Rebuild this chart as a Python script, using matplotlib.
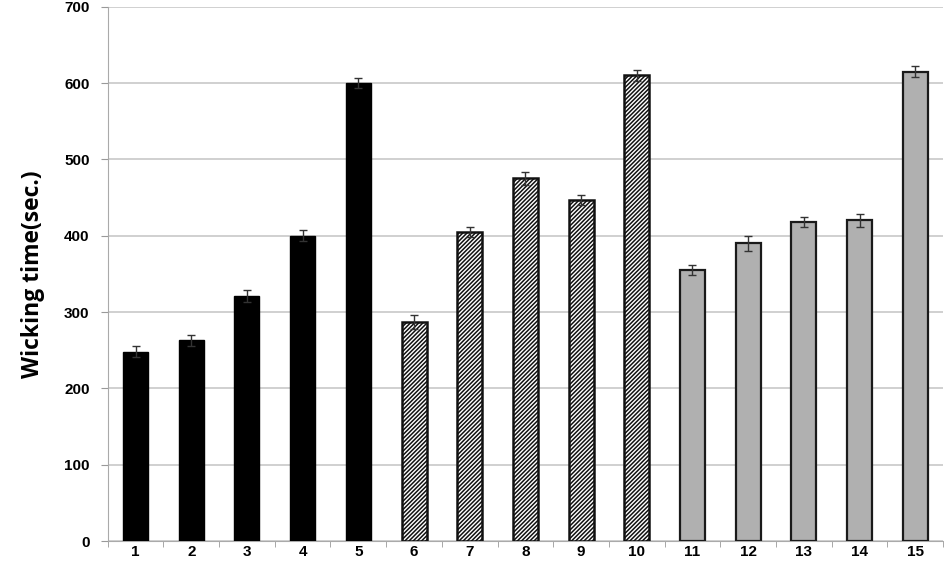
import numpy as np
import matplotlib.pyplot as plt
import matplotlib as mpl

# sample numbers and measured wicking times
samples = [str(i) for i in range(1, 16)]
wicking = [248, 263, 321, 400, 600, 287, 405, 475, 447, 610, 355, 390, 418, 420, 615]
errors = [7, 7, 8, 7, 7, 9, 7, 8, 7, 7, 7, 10, 7, 8, 7]

mpl.rcParams['hatch.linewidth'] = 1.1

fig = plt.figure(figsize=(9.45, 5.63), dpi=100)
ax = fig.add_axes([0.114, 0.039, 0.884, 0.949])

x = np.arange(len(samples))
for i in range(len(samples)):
    if i < 5:
        ax.bar(x[i], wicking[i], width=0.45, color='black', edgecolor='black', zorder=3)
    elif i < 10:
        ax.bar(x[i], wicking[i], width=0.45, color='white', edgecolor='#111111',
               hatch='////////', linewidth=1.8, zorder=3)
    else:
        ax.bar(x[i], wicking[i], width=0.45, color='#b0b0b0', edgecolor='#1a1a1a',
               linewidth=1.6, zorder=3)

ax.errorbar(x, wicking, yerr=errors, fmt='none', ecolor='#333333',
            elinewidth=1, capsize=3, capthick=1, zorder=4)

ax.set_xlim(-0.5, len(samples) - 0.5)
ax.set_ylim(0, 700)
ax.set_yticks(range(0, 701, 100))
ax.set_xticks(x)
ax.set_xticklabels(samples)
ax.set_xticks(np.arange(-0.5, len(samples), 1), minor=True)
ax.tick_params(axis='x', which='major', length=0, pad=3)
ax.tick_params(axis='x', which='minor', length=4, color='#999999', direction='out')
ax.tick_params(axis='y', length=5, color='#999999', pad=8)

for lab in ax.get_xticklabels() + ax.get_yticklabels():
    lab.set_fontfamily('Liberation Sans')
    lab.set_fontweight('bold')
    lab.set_fontsize(11)

ax.yaxis.grid(True, color='#c8c8c8', linewidth=1.2, zorder=0)
ax.set_axisbelow(True)
for side in ['top', 'right']:
    ax.spines[side].set_visible(False)
ax.spines['left'].set_color('#aaaaaa')
ax.spines['bottom'].set_color('#aaaaaa')

ax.set_ylabel('Wicking time(sec.)', fontsize=16.5, fontfamily='Open Sans',
              fontweight='bold', labelpad=14)

fig.savefig('out.png', dpi=100)
